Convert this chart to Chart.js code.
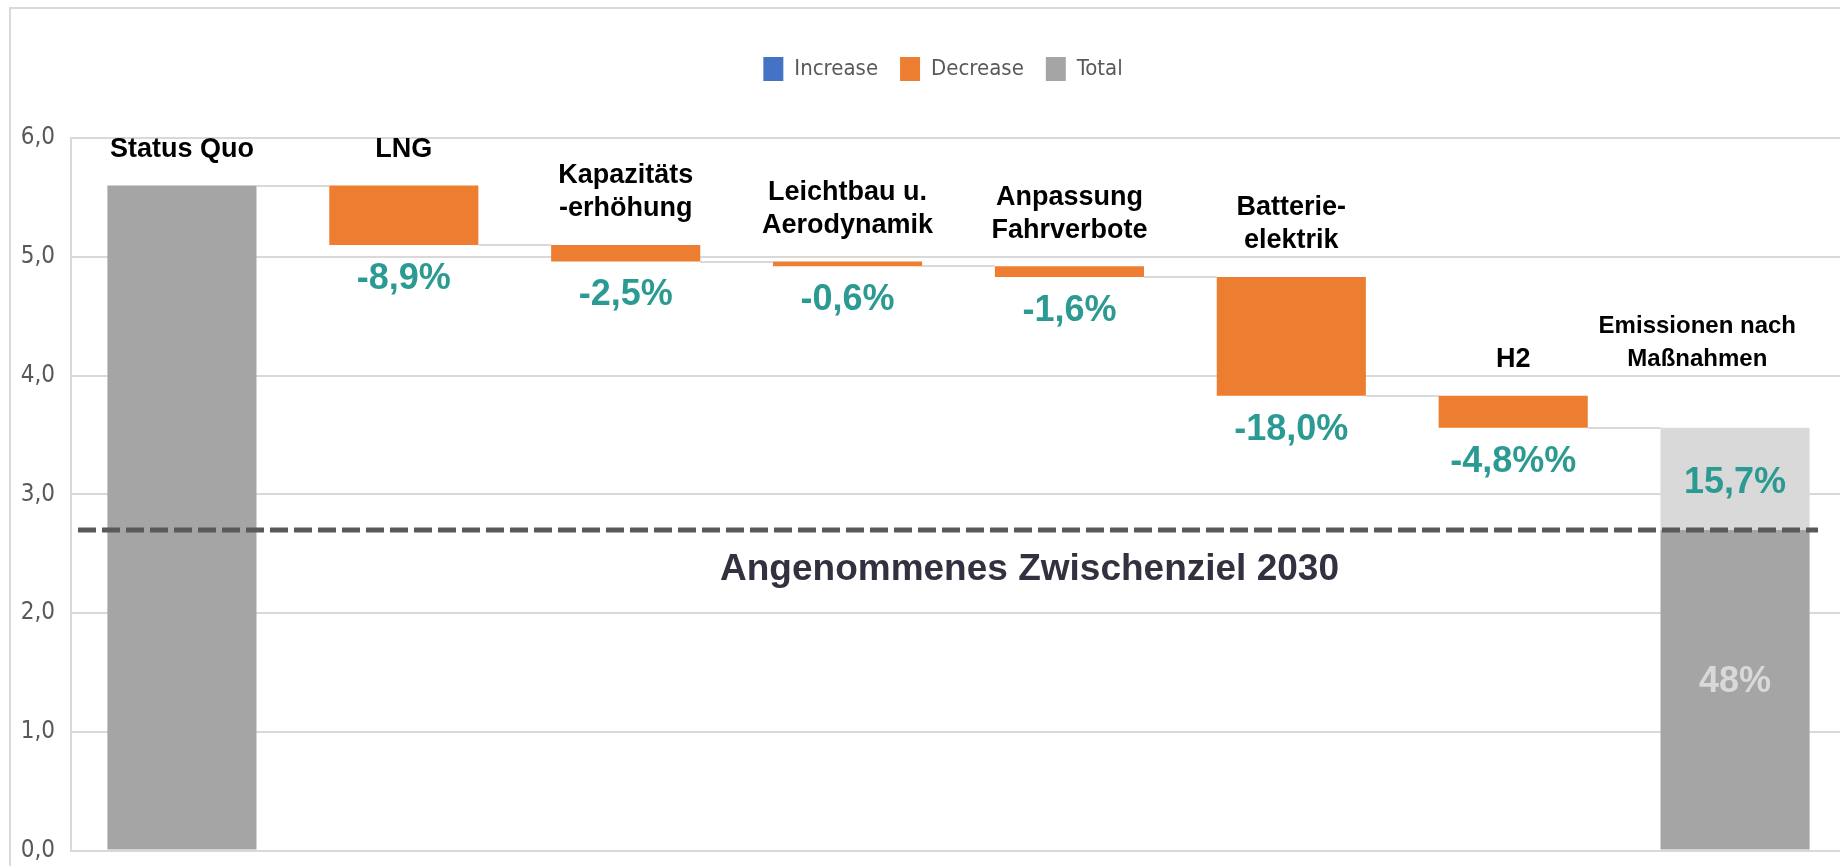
<!DOCTYPE html>
<html>
<head>
<meta charset="utf-8">
<script src="https://cdn.jsdelivr.net/npm/chart.js@4.4.1/dist/chart.umd.min.js"></script>
<style>
  html, body { margin: 0; padding: 0; background: #fff; overflow: hidden; }
  #wrap { width: 1846px; height: 866px; overflow: hidden; }
</style>
</head>
<body>
<div id="wrap"><canvas id="chart" width="1846" height="881"></canvas></div>
<script>
// --- data ---
const categoryLines = [
  ["Status Quo"],
  ["LNG"],
  ["Kapazitäts", "-erhöhung"],
  ["Leichtbau u.", "Aerodynamik"],
  ["Anpassung", "Fahrverbote"],
  ["Batterie-", "elektrik"],
  ["H2"],
  ["Emissionen nach", "Maßnahmen"],
];
const statusQuo = 5.6;
const decreases = [0.5, 0.14, 0.04, 0.09, 1.0, 0.27];
const decreaseLabels = ["-8,9%", "-2,5%", "-0,6%", "-1,6%", "-18,0%", "-4,8%%"];
const targetValue = 2.7;
const targetText = "Angenommenes Zwischenziel 2030";
const gapLabel = "15,7%";
const targetShareLabel = "48%";
const yTicks = [0, 1, 2, 3, 4, 5, 6];
const legendNames = ["Increase", "Decrease", "Total"];

const colors = {
  increase: "#4472C4",
  decrease: "#ED7D31",
  total: "#A5A5A5",
  gap: "#D9D9D9",
  grid: "#D9D9D9",
  axisText: "#595959",
  teal: "#2A9A92",
  dash: "#595959",
  target: "#33313F",
};
const narrow = '"Liberation Sans Narrow", "DejaVu Sans Condensed", sans-serif';
const sans = '"Liberation Sans", Arial, sans-serif';

// --- build floating bar ranges ---
const last = categoryLines.length - 1;
const labels = categoryLines.map(l => l.join(" "));
const decreaseData = [null];
let level = statusQuo;
decreases.forEach(d => {
  decreaseData.push([level - d, level]);
  level -= d;
});
decreaseData.push(null);
const finalValue = level;
const totalData = labels.map((_, i) => i === 0 ? [0, statusQuo] : i === last ? [0, targetValue] : null);
const gapData = labels.map((_, i) => i === last ? [targetValue, finalValue] : null);
const barTops = labels.map((_, i) => i === 0 ? statusQuo : i === last ? finalValue : decreaseData[i][1]);
const barBottoms = labels.map((_, i) => i === 0 || i === last ? 0 : decreaseData[i][0]);

const BAR_PCT = 0.672;

const framePlugin = {
  id: "frame",
  beforeDraw(chart) {
    const ctx = chart.ctx;
    ctx.save();
    ctx.strokeStyle = "#D9D9D9";
    ctx.lineWidth = 2;
    ctx.beginPath();
    ctx.moveTo(10, chart.height);
    ctx.lineTo(10, 8);
    ctx.lineTo(chart.width, 8);
    ctx.stroke();
    ctx.restore();
  },
};

// extra room under the legend, and nudge it a little to the right
const legendGap = {
  id: "legendGap",
  beforeInit(chart) {
    const lg = chart.legend;
    const fit = lg.fit;
    lg.fit = function () {
      fit.bind(lg)();
      this.height += 47;
    };
    const draw = lg.draw;
    lg.draw = function () {
      chart.ctx.save();
      chart.ctx.translate(20, 0);
      draw.bind(lg)();
      chart.ctx.restore();
    };
  },
};

const connectors = {
  id: "connectors",
  beforeDatasetsDraw(chart) {
    const ctx = chart.ctx, x = chart.scales.x, y = chart.scales.y;
    const half = (x.getPixelForValue(1) - x.getPixelForValue(0)) * BAR_PCT / 2;
    ctx.save();
    ctx.strokeStyle = "#D9D9D9";
    ctx.lineWidth = 2;
    for (let i = 0; i < last; i++) {
      const lv = i === 0 ? statusQuo : barBottoms[i];
      const py = Math.round(y.getPixelForValue(lv));
      ctx.beginPath();
      ctx.moveTo(x.getPixelForValue(i) + half, py);
      ctx.lineTo(x.getPixelForValue(i + 1) - half, py);
      ctx.stroke();
    }
    ctx.restore();
  },
};

const annotations = {
  id: "annotations",
  afterDatasetsDraw(chart) {
    const ctx = chart.ctx, x = chart.scales.x, y = chart.scales.y, area = chart.chartArea;
    ctx.save();

    // target line
    const ty = y.getPixelForValue(targetValue);
    ctx.strokeStyle = colors.dash;
    ctx.lineWidth = 5;
    ctx.setLineDash([18, 6]);
    ctx.beginPath();
    ctx.moveTo(area.left + 7, ty);
    ctx.lineTo(area.right - 28, ty);
    ctx.stroke();
    ctx.setLineDash([]);

    ctx.textAlign = "center";
    ctx.textBaseline = "middle";
    ctx.fillStyle = colors.target;
    ctx.font = "bold 37px " + sans;
    ctx.fillText(targetText, area.left + area.width * 0.54, ty + 40);

    // category names above bars (the result label lines up with the one before it)
    ctx.fillStyle = "#000";
    categoryLines.forEach((lines, i) => {
      ctx.font = (i === last ? "bold 24px " : "bold 27px ") + sans;
      const top = y.getPixelForValue(barTops[i === last ? i - 1 : i]);
      const widest = Math.max(...lines.map(t => ctx.measureText(t).width));
      const cx = Math.min(x.getPixelForValue(i), area.right - 50 - widest / 2);
      lines.forEach((t, k) => {
        ctx.fillText(t, cx, top - 36 - (lines.length - 1 - k) * 33);
      });
    });

    // change labels under bars
    ctx.font = "bold 36px " + sans;
    ctx.fillStyle = colors.teal;
    decreaseLabels.forEach((t, k) => {
      const i = k + 1;
      ctx.fillText(t, x.getPixelForValue(i), y.getPixelForValue(barBottoms[i]) + 34);
    });

    // final bar labels
    const fx = x.getPixelForValue(last);
    ctx.fillText(gapLabel, fx, (y.getPixelForValue(finalValue) + ty) / 2 + 4);
    ctx.fillStyle = "#D9D9D9";
    ctx.fillText(targetShareLabel, fx, (ty + y.getPixelForValue(0)) / 2 - 8);

    ctx.restore();
  },
};

const barBase = { barPercentage: BAR_PCT, categoryPercentage: 1, grouped: false, borderWidth: 0 };

new Chart(document.getElementById("chart"), {
  type: "bar",
  data: {
    labels: labels,
    datasets: [
      Object.assign({ label: legendNames[0], data: labels.map(() => null), backgroundColor: colors.increase }, barBase),
      Object.assign({ label: legendNames[1], data: decreaseData, backgroundColor: colors.decrease }, barBase),
      Object.assign({ label: legendNames[2], data: totalData, backgroundColor: colors.total }, barBase),
      Object.assign({ label: "gap", data: gapData, backgroundColor: colors.gap }, barBase),
    ],
  },
  options: {
    responsive: false,
    animation: false,
    layout: { padding: { top: 35, left: 0, right: 0, bottom: 2 } },
    plugins: {
      tooltip: { enabled: false },
      legend: {
        position: "top",
        labels: {
          color: colors.axisText,
          boxWidth: 20,
          boxHeight: 24,
          padding: 22,
          font: { family: narrow, size: 22 },
          filter: item => item.datasetIndex < 3,
        },
      },
    },
    scales: {
      x: { display: false },
      y: {
        min: 0,
        max: 6,
        afterBuildTicks: s => { s.ticks = yTicks.map(v => ({ value: v })); },
        afterFit: s => { s.width = 71; },
        ticks: {
          color: colors.axisText,
          padding: 16,
          font: { family: narrow, size: 24 },
          callback: v => v.toFixed(1).replace(".", ","),
        },
        grid: { color: colors.grid, lineWidth: 2, drawTicks: false },
        border: { color: colors.grid, width: 2 },
      },
    },
  },
  plugins: [framePlugin, legendGap, connectors, annotations],
});
</script>
</body>
</html>
